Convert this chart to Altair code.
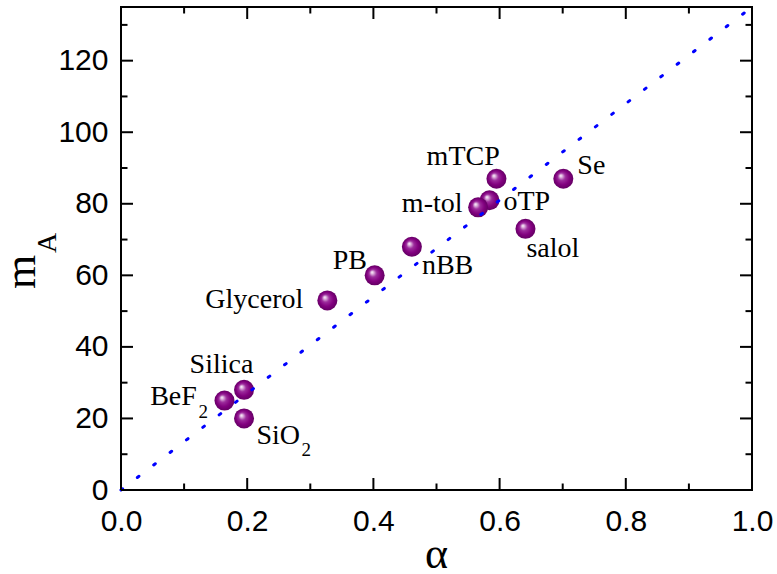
import altair as alt
import pandas as pd

# Glass formers: fragility index m_A against the parameter alpha
names = ["BeF2", "Silica", "SiO2", "Glycerol", "PB", "nBB", "mTCP", "oTP", "m-tol", "salol", "Se"]
alpha = [0.164, 0.195, 0.195, 0.327, 0.402, 0.461, 0.595, 0.584, 0.566, 0.641, 0.701]
m_A = [25, 28, 20, 53, 60, 68, 87, 81, 79, 73, 87]

# Dotted guide line m_A = 135 * alpha
guide_alpha = [0.0, 1.0]
guide_m = [0.0, 135.0]

# Axis ticks
x_major = [0.0, 0.2, 0.4, 0.6, 0.8, 1.0]
x_minor = [0.1, 0.3, 0.5, 0.7, 0.9]
y_major = [0, 20, 40, 60, 80, 100, 120]
y_minor = [10, 30, 50, 70, 90, 110, 130]

W, H = 631, 483
SERIF = "Liberation Serif"
SANS = "Liberation Sans"

pts = pd.DataFrame({"name": names, "alpha": alpha, "m": m_A})
guide = pd.DataFrame({"alpha": guide_alpha, "m": guide_m})

xs = alt.Scale(domain=[0, 1], nice=False, zero=False)
ys = alt.Scale(domain=[0, 135], nice=False, zero=False)

x_axis = alt.Axis(values=x_major, format=".1f", labelFont=SANS, labelFontSize=30,
                  labelColor="black", labelPadding=16, ticks=False, tickSize=0,
                  domain=False, grid=False, title=None, labelFlush=False)
y_axis = alt.Axis(values=y_major, format="d", labelFont=SANS, labelFontSize=30,
                  labelColor="black", labelPadding=13, ticks=False, tickSize=0,
                  domain=False, grid=False, title=None)


def X(field):
    return alt.X(field, scale=xs, axis=x_axis)


def Y(field):
    return alt.Y(field, scale=ys, axis=y_axis)


base = alt.Chart(pts)

sphere = alt.RadialGradient(
    gradient="radial",
    x1=0.36, y1=0.34, r1=0.0,
    x2=0.5, y2=0.5, r2=0.5,
    stops=[
        alt.GradientStop(color="#ffffff", offset=0.0),
        alt.GradientStop(color="#e6c4e6", offset=0.12),
        alt.GradientStop(color="#9c2c9c", offset=0.38),
        alt.GradientStop(color="#82007f", offset=0.7),
        alt.GradientStop(color="#640064", offset=1.0),
    ],
)

points = base.mark_circle(size=400, opacity=1, fill=sphere, stroke=None).encode(
    x=X("alpha:Q"), y=Y("m:Q"),
)

line = alt.Chart(guide).mark_line(
    color="#0000ff", strokeWidth=3, strokeDash=[2, 18.6], strokeCap="round"
).encode(x=X("alpha:Q"), y=Y("m:Q"))


def label(name, text, align, dx, dy, size=28):
    return base.transform_filter(alt.datum.name == name).mark_text(
        text=text, align=align, baseline="alphabetic", dx=dx, dy=dy,
        font=SERIF, fontSize=size, color="black",
    ).encode(x=X("alpha:Q"), y=Y("m:Q"))


labels = [
    label("BeF2", "BeF", "right", -27.6, 4.7),
    label("BeF2", "2", "left", -26.0, 17.0, 19),
    label("Silica", "Silica", "center", -22.6, -16.7),
    label("SiO2", "SiO", "left", 12.4, 26.0),
    label("SiO2", "2", "left", 57.4, 38.0, 19),
    label("Glycerol", "Glycerol", "right", -24.0, 8.0),
    label("PB", "PB", "right", -7.7, -6.7),
    label("nBB", "nBB", "left", 10.0, 27.6),
    label("mTCP", "mTCP", "right", 3.3, -14.0),
    label("oTP", "oTP", "left", 14.0, 10.0),
    label("m-tol", "m-tol", "right", -15.6, 4.6),
    label("salol", "salol", "left", 1.0, 27.7),
    label("Se", "Se", "left", 14.0, -4.7),
]


def tick_rules(vals, orient, length):
    df = pd.DataFrame({"v": vals})
    mk = alt.Chart(df).mark_rule(color="black", strokeWidth=2)
    if orient == "bottom":
        return mk.encode(x=X("v:Q"), y=alt.value(H), y2=alt.value(H - length))
    if orient == "top":
        return mk.encode(x=X("v:Q"), y=alt.value(0), y2=alt.value(length))
    if orient == "left":
        return mk.encode(y=Y("v:Q"), x=alt.value(0), x2=alt.value(length))
    return mk.encode(y=Y("v:Q"), x=alt.value(W), x2=alt.value(W - length))


ticks = []
for side in ["bottom", "top"]:
    ticks.append(tick_rules(x_major, side, 12))
    ticks.append(tick_rules(x_minor, side, 6.5))
for side in ["left", "right"]:
    ticks.append(tick_rules(y_major, side, 12))
    ticks.append(tick_rules(y_minor, side, 6.5))

# Axis titles: alpha below, m with subscript A on the left
title_df = pd.DataFrame({"k": [0]})
x_title = alt.Chart(title_df).mark_text(
    text="α", font=SERIF, fontSize=44, align="center", baseline="alphabetic", color="black"
).encode(x=alt.value(W / 2), y=alt.value(561))
y_title_m = alt.Chart(title_df).mark_text(
    text="m", font=SERIF, fontSize=44, angle=270, align="center", baseline="alphabetic", color="black"
).encode(x=alt.value(-86), y=alt.value(265))
y_title_sub = alt.Chart(title_df).mark_text(
    text="A", font=SERIF, fontSize=28, angle=270, align="center", baseline="alphabetic", color="black"
).encode(x=alt.value(-65), y=alt.value(236))

chart = alt.layer(
    points, line, *labels, *ticks, x_title, y_title_m, y_title_sub
).properties(
    width=W, height=H,
    autosize=alt.AutoSizeParams(type="none"),
    padding={"left": 121, "top": 7, "right": 25, "bottom": 84},
    background="white",
).configure_view(
    stroke="black", strokeWidth=2
)

chart.save("out.html", embed_options={"renderer": "svg", "actions": False})
